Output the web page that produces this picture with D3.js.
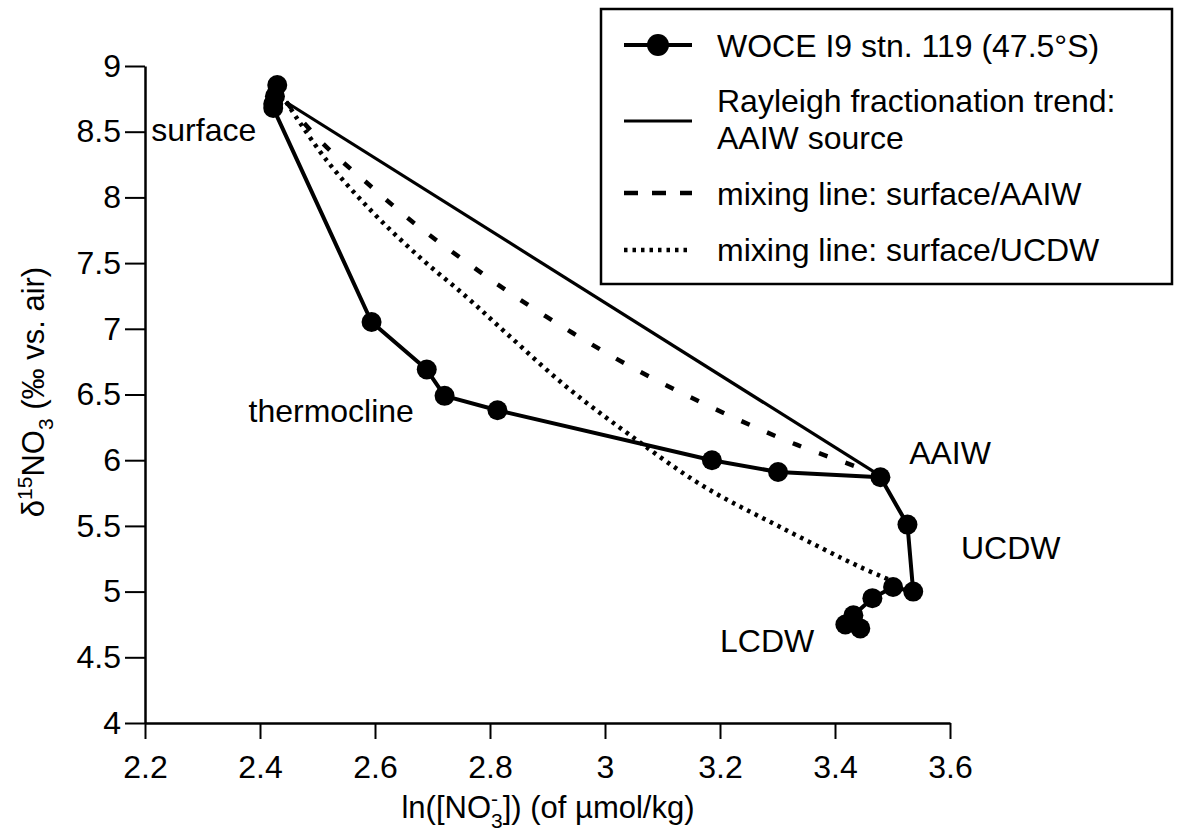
<!DOCTYPE html>
<html>
<head>
<meta charset="utf-8">
<script src="https://cdn.jsdelivr.net/npm/d3@7"></script>
<style>
  html, body { margin: 0; padding: 0; background: #fff; }
  text { font-family: "Liberation Sans", Arial, Helvetica, sans-serif; fill: #000; }
</style>
</head>
<body>
<svg id="chart" width="1181" height="837"></svg>
<script>
// ---------- data ----------
const xTicks = [2.2, 2.4, 2.6, 2.8, 3.0, 3.2, 3.4, 3.6];
const xTickLabels = ["2.2", "2.4", "2.6", "2.8", "3", "3.2", "3.4", "3.6"];
const yTicks = [4, 4.5, 5, 5.5, 6, 6.5, 7, 7.5, 8, 8.5, 9];
const yTickLabels = ["4", "4.5", "5", "5.5", "6", "6.5", "7", "7.5", "8", "8.5", "9"];

// WOCE I9 stn. 119 profile (ln NO3, d15N)
const profileX = [2.430, 2.426, 2.423, 2.423, 2.594, 2.690, 2.721, 2.813, 3.186, 3.301, 3.479, 3.526, 3.536, 3.501, 3.465, 3.432, 3.418, 3.444];
const profileY = [8.855, 8.770, 8.710, 8.680, 7.052, 6.690, 6.490, 6.380, 6.000, 5.910, 5.870, 5.510, 5.000, 5.035, 4.950, 4.820, 4.750, 4.720];

// Rayleigh fractionation trend (AAIW source)
const rayleighX = [2.445, 3.479];
const rayleighY = [8.726, 5.880];

// mixing line surface / AAIW
const mixAX = [2.4456, 2.5084, 2.5902, 2.6721, 2.7610, 2.8481, 2.9439, 3.0362, 3.1338, 3.2331, 3.3341, 3.4387, 3.4787];
const mixAY = [8.726, 8.414, 8.094, 7.790, 7.501, 7.234, 6.968, 6.732, 6.511, 6.306, 6.116, 5.948, 5.880];

// mixing line surface / UCDW
const mixUX = [2.4456, 2.5153, 2.5955, 2.6774, 2.7592, 2.8300, 2.9334, 3.0432, 3.1704, 3.3045, 3.4439, 3.4997];
const mixUY = [8.726, 8.285, 7.889, 7.546, 7.242, 6.960, 6.557, 6.192, 5.804, 5.492, 5.187, 5.081];

const legendLabels = ["WOCE I9 stn. 119 (47.5°S)", "Rayleigh fractionation trend:", "AAIW source", "mixing line: surface/AAIW", "mixing line: surface/UCDW"];
const waterMassLabels = ["surface", "thermocline", "AAIW", "UCDW", "LCDW"];

// ---------- drawing ----------
const svg = d3.select("#chart");
svg.append("rect").attr("width", 1181).attr("height", 837).attr("fill", "#fff");

const x = d3.scaleLinear().domain([2.2, 3.6]).range([145, 950]);
const y = d3.scaleLinear().domain([4, 9]).range([723, 66]);

// axes
const xAxis = d3.axisBottom(x).tickValues(xTicks)
  .tickFormat((d, i) => xTickLabels[i]).tickSize(16).tickSizeOuter(0).tickPadding(16);
const yAxis = d3.axisLeft(y).tickValues(yTicks)
  .tickFormat((d, i) => yTickLabels[i]).tickSize(20).tickSizeOuter(0).tickPadding(4);

const gx = svg.append("g").attr("transform", "translate(0,723)").call(xAxis);
const gy = svg.append("g").attr("transform", "translate(145,0)").call(yAxis);
[gx, gy].forEach(g => {
  g.select(".domain").attr("stroke", "#000").attr("stroke-width", 2.5);
  g.selectAll(".tick line").attr("stroke", "#000").attr("stroke-width", 2);
  g.selectAll(".tick text").attr("font-size", 32).attr("font-family", "Liberation Sans, Arial, sans-serif").attr("fill", "#000");
});

// lines
const pts = (xs, ys) => xs.map((v, i) => [v, ys[i]]);
const straight = d3.line().x(d => x(d[0])).y(d => y(d[1]));
const smooth = d3.line().x(d => x(d[0])).y(d => y(d[1])).curve(d3.curveCatmullRom.alpha(0.5));

svg.append("path").attr("d", straight(pts(rayleighX, rayleighY)))
  .attr("fill", "none").attr("stroke", "#000").attr("stroke-width", 3.2);
svg.append("path").attr("d", smooth(pts(mixAX, mixAY)))
  .attr("fill", "none").attr("stroke", "#000").attr("stroke-width", 4.5)
  .attr("stroke-dasharray", "9,19");
svg.append("path").attr("d", smooth(pts(mixUX, mixUY)))
  .attr("fill", "none").attr("stroke", "#000").attr("stroke-width", 4.5)
  .attr("stroke-dasharray", "3.5,5");

const prof = pts(profileX, profileY);
svg.append("path").attr("d", straight(prof))
  .attr("fill", "none").attr("stroke", "#000").attr("stroke-width", 4).attr("stroke-linejoin", "round");
svg.selectAll("circle.pt").data(prof).join("circle").attr("class", "pt")
  .attr("cx", d => x(d[0])).attr("cy", d => y(d[1])).attr("r", 10).attr("fill", "#000");

// water-mass labels
const labelPos = [[x(2.211), y(8.43)], [x(2.380), y(6.29)], [x(3.529), y(5.97)], [x(3.619), y(5.25)], [x(3.200), y(4.54)]];
waterMassLabels.forEach((t, i) => {
  svg.append("text").attr("x", labelPos[i][0]).attr("y", labelPos[i][1])
    .attr("font-size", 32).text(t);
});

// axis titles
const xt = svg.append("text").attr("x", 548).attr("y", 818).attr("text-anchor", "middle").attr("font-size", 31);
xt.append("tspan").text("ln([NO");
xt.append("tspan").attr("font-size", 21).attr("dy", -12).text("-");
xt.append("tspan").attr("font-size", 21).attr("dx", -7).attr("dy", 22).text("3");
xt.append("tspan").attr("dy", -10).text("]) (of µmol/kg)");

const yt = svg.append("text").attr("transform", "translate(44,392) rotate(-90)")
  .attr("text-anchor", "middle").attr("font-size", 31);
yt.append("tspan").text("δ");
yt.append("tspan").attr("font-size", 21).attr("dy", -12).text("15");
yt.append("tspan").attr("dy", 12).text("NO");
yt.append("tspan").attr("font-size", 21).attr("dy", 9).text("3");
yt.append("tspan").attr("dy", -9).text(" (‰ vs. air)");

// legend
const lg = svg.append("g");
lg.append("rect").attr("x", 601).attr("y", 9).attr("width", 571).attr("height", 275)
  .attr("fill", "#fff").attr("stroke", "#000").attr("stroke-width", 2.5);
const lx0 = 624, lx1 = 692, tx = 717;
lg.append("line").attr("x1", lx0).attr("x2", lx1).attr("y1", 45).attr("y2", 45).attr("stroke", "#000").attr("stroke-width", 4);
lg.append("circle").attr("cx", 658).attr("cy", 45).attr("r", 11).attr("fill", "#000");
lg.append("line").attr("x1", lx0).attr("x2", lx1).attr("y1", 121).attr("y2", 121).attr("stroke", "#000").attr("stroke-width", 3.2);
lg.append("line").attr("x1", lx0).attr("x2", lx1).attr("y1", 193).attr("y2", 193).attr("stroke", "#000").attr("stroke-width", 4.5).attr("stroke-dasharray", "14,14");
lg.append("line").attr("x1", lx0).attr("x2", lx1).attr("y1", 250).attr("y2", 250).attr("stroke", "#000").attr("stroke-width", 4.5).attr("stroke-dasharray", "3.5,5");
const legendY = [57, 112, 149, 205, 261];
legendLabels.forEach((t, i) => {
  lg.append("text").attr("x", tx).attr("y", legendY[i]).attr("font-size", 32).text(t);
});
</script>
</body>
</html>
